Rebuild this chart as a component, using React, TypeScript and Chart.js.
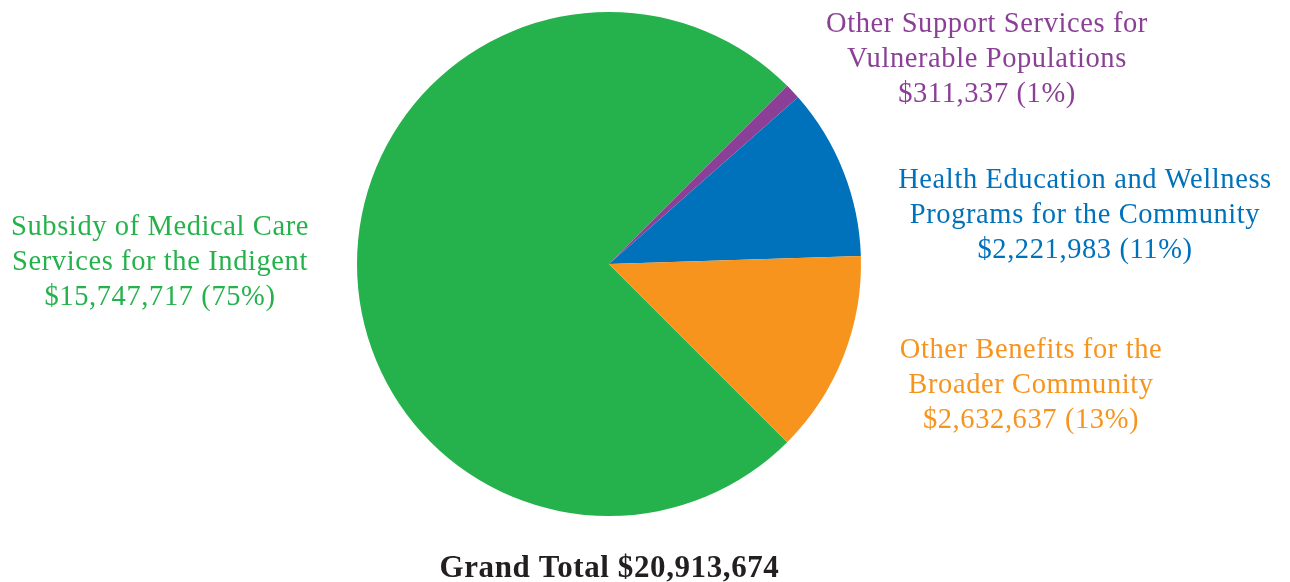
import React, { useEffect, useRef } from "react";
import { Chart, registerables } from "chart.js";

Chart.register(...registerables);

const categories = [
  "Subsidy of Medical Care Services for the Indigent",
  "Other Support Services for Vulnerable Populations",
  "Health Education and Wellness Programs for the Community",
  "Other Benefits for the Broader Community",
];
const amounts = ["$15,747,717", "$311,337", "$2,221,983", "$2,632,637"];
const percents = [75, 1, 11, 13];
const labelLines = [
  ["Subsidy of Medical Care", "Services for the Indigent"],
  ["Other Support Services for", "Vulnerable Populations"],
  ["Health Education and Wellness", "Programs for the Community"],
  ["Other Benefits for the", "Broader Community"],
];
const colors = ["#25B24C", "#8B3F96", "#0071BB", "#F7941E"];
const grandTotal = "Grand Total $20,913,674";

const labelPos = [
  { x: 160, y: 235 },
  { x: 987, y: 32 },
  { x: 1085, y: 188 },
  { x: 1031, y: 358 },
];

const FONT = '"Liberation Serif", serif';

const labelPlugin = {
  id: "outerLabels",
  afterDraw(chart: any) {
    const ctx = chart.ctx;
    ctx.save();
    ctx.textAlign = "center";
    ctx.textBaseline = "alphabetic";
    ctx.font = `28.5px ${FONT}`;
    (ctx as any).letterSpacing = "0.6px";
    labelLines.forEach((lines, i) => {
      ctx.fillStyle = colors[i];
      const all = [...lines, `${amounts[i]} (${percents[i]}%)`];
      all.forEach((t, j) => {
        ctx.fillText(t, labelPos[i].x, labelPos[i].y + j * 35);
      });
    });
    ctx.fillStyle = "#231F20";
    ctx.font = `bold 31px ${FONT}`;
    (ctx as any).letterSpacing = "0.6px";
    ctx.fillText(grandTotal, 609.5, 577);
    ctx.restore();
  },
};

export default function App() {
  const ref = useRef<HTMLCanvasElement | null>(null);
  useEffect(() => {
    document.body.style.margin = "0";
    const chart = new Chart(ref.current!, {
      type: "pie",
      data: {
        labels: categories,
        datasets: [
          {
            data: percents,
            backgroundColor: colors,
            borderWidth: 0,
          },
        ],
      },
      options: {
        responsive: false,
        animation: false,
        rotation: 135,
        layout: { padding: { left: 357, right: 429, top: 12, bottom: 66 } },
        plugins: {
          legend: { display: false },
          tooltip: { enabled: false },
          title: { display: false },
        },
      },
      plugins: [labelPlugin],
    });
    return () => chart.destroy();
  }, []);
  return (
    <div style={{ width: 1290, height: 582 }}>
      <canvas ref={ref} width={1290} height={582} style={{ display: "block" }} />
    </div>
  );
}
